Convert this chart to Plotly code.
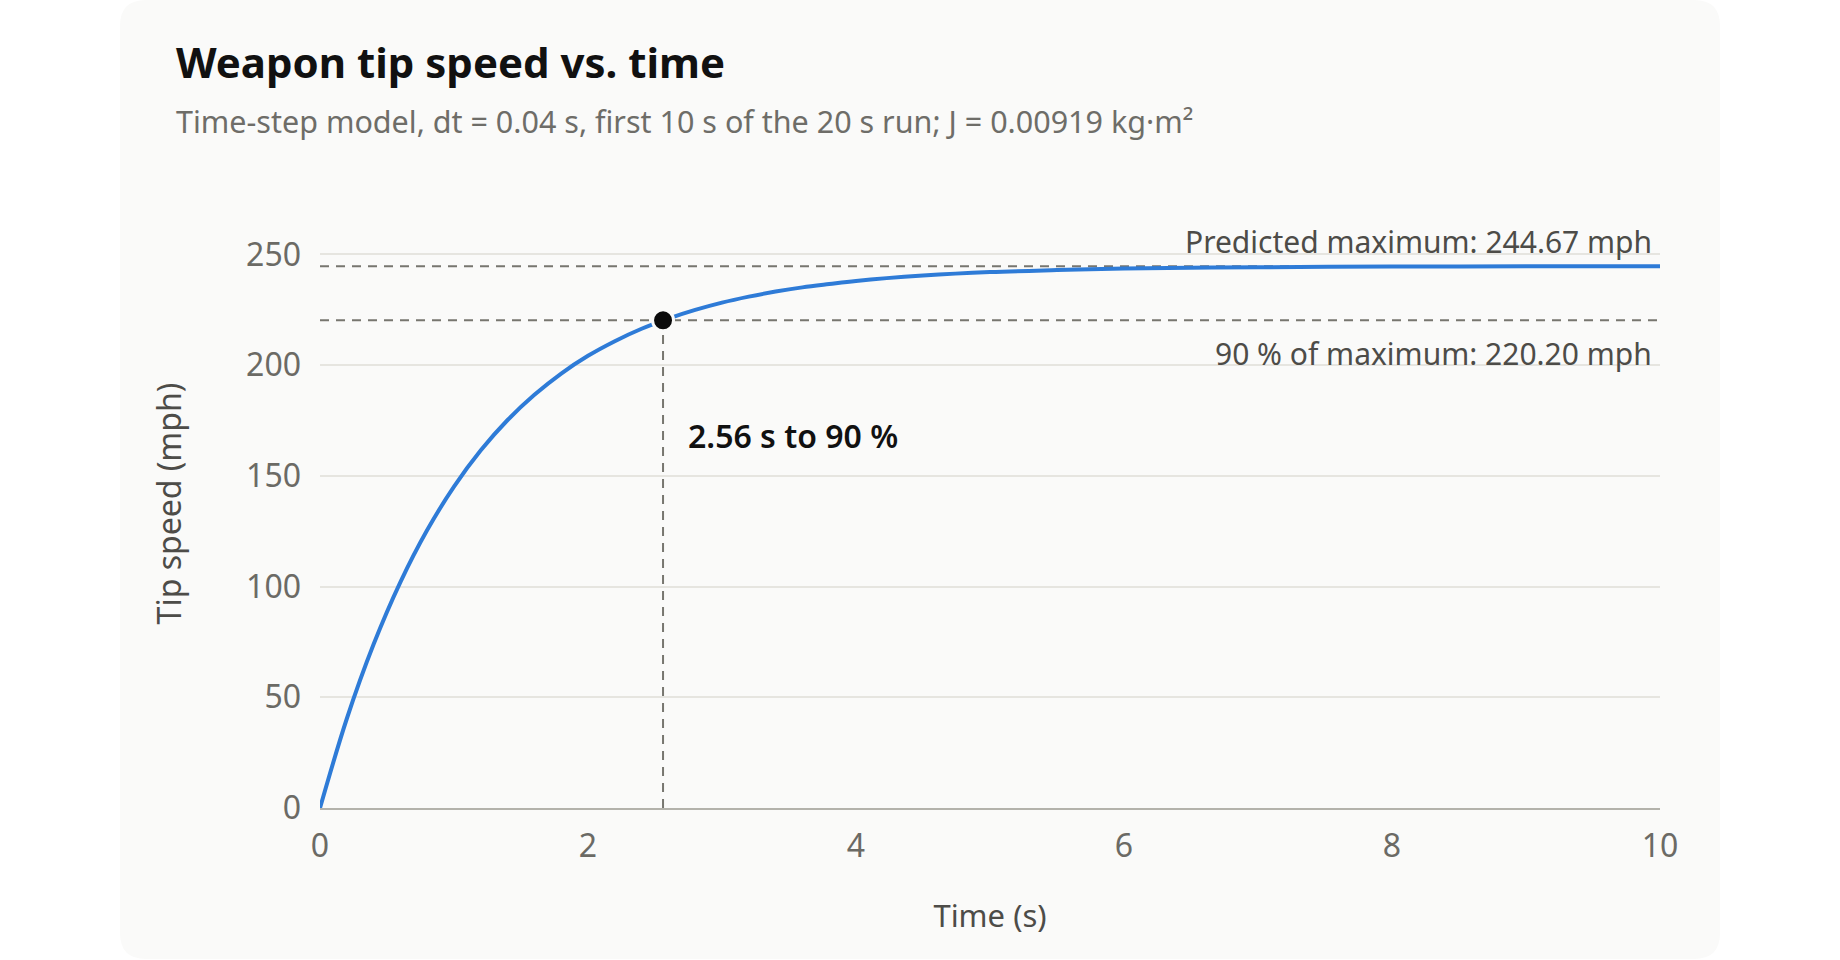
import plotly.graph_objects as go

# Tip speed (time-step model, first 10 s)
time_s = [0, 0.2, 0.4, 0.6, 0.8, 1.0, 1.2, 1.4, 1.6, 1.8, 2.0, 2.2, 2.4,
          2.6, 2.8, 3.0, 3.2, 3.4, 3.6, 3.8, 4.0, 4.5, 5.0, 5.5, 6.0,
          7.0, 8.0, 9.0, 10.0]
tip_speed_mph = [0, 40.3, 73.9, 102.0, 125.5, 145.1, 161.5, 175.2, 186.6,
                 196.2, 204.2, 210.8, 216.4, 221.0, 224.9, 228.2, 230.9,
                 233.2, 235.1, 236.6, 238.0, 240.4, 242.0, 242.9, 243.6,
                 244.2, 244.5, 244.6, 244.67]

predicted_max = 244.67
ninety_pct = 220.20
t_ninety = 2.56

x_ticks = [0, 2, 4, 6, 8, 10]
y_ticks = [0, 50, 100, 150, 200, 250]

FONT = "Noto Sans"
CARD = "#fafaf9"
DASH_COLOR = "#77766f"

# pixel layout of the plot area
W, H = 1840, 960
M_L, M_R, M_T, M_B = 320, 180, 199, 152
Y_TOP = 275
plot_w = W - M_L - M_R
plot_h = H - M_T - M_B


def px_to_paper(px, py):
    return (px - M_L) / plot_w, (H - M_B - py) / plot_h


def rounded_card(x0, y0, x1, y1, r):
    # rounded rectangle as a paper-referenced svg path
    ax, ay = px_to_paper(x0, y0)
    bx, by = px_to_paper(x1, y1)
    rx, ry = r / plot_w, r / plot_h
    return (f"M {ax+rx},{ay} L {bx-rx},{ay} Q {bx},{ay} {bx},{ay-ry} "
            f"L {bx},{by+ry} Q {bx},{by} {bx-rx},{by} L {ax+rx},{by} "
            f"Q {ax},{by} {ax},{by+ry} L {ax},{ay-ry} Q {ax},{ay} {ax+rx},{ay} Z")


dash_line = dict(color=DASH_COLOR, width=2, dash="9px,7px")

traces = []
# reference lines
traces.append(go.Scatter(x=[x_ticks[0], x_ticks[-1]], y=[predicted_max, predicted_max],
                         mode="lines", line=dash_line, hoverinfo="skip"))
traces.append(go.Scatter(x=[x_ticks[0], x_ticks[-1]], y=[ninety_pct, ninety_pct],
                         mode="lines", line=dash_line, hoverinfo="skip"))
traces.append(go.Scatter(x=[t_ninety, t_ninety], y=[0, ninety_pct],
                         mode="lines", line=dash_line, hoverinfo="skip"))
# speed curve
traces.append(go.Scatter(x=time_s, y=tip_speed_mph, mode="lines",
                         line=dict(color="#2e7bd7", width=4, shape="spline", smoothing=1.0),
                         name="Tip speed"))
# 90 % point
traces.append(go.Scatter(x=[t_ninety], y=[ninety_pct], mode="markers",
                         marker=dict(size=21, color="#0b0b0b", line=dict(color=CARD, width=3))))

fig = go.Figure(data=traces)

tx, ty = px_to_paper(174, 62)
sx, sy = px_to_paper(174, 121)

fig.update_layout(
    width=W, height=H,
    showlegend=False,
    paper_bgcolor="white",
    plot_bgcolor="rgba(0,0,0,0)",
    margin=dict(l=M_L, r=M_R, t=M_T, b=M_B),
    font=dict(family=FONT, color="#6b6a65"),
    shapes=[dict(type="path", xref="paper", yref="paper",
                 path=rounded_card(120, 0, 1720, 959, 26),
                 fillcolor=CARD, line=dict(width=0), layer="below")],
    annotations=[
        dict(text="<b>Weapon tip speed vs. time</b>", xref="paper", yref="paper",
             x=tx, y=ty, xanchor="left", yanchor="middle", showarrow=False,
             font=dict(size=42, color="#111111", family=FONT)),
        dict(text="Time-step model, dt = 0.04 s, first 10 s of the 20 s run; J = 0.00919 kg·m²",
             xref="paper", yref="paper", x=sx, y=sy, xanchor="left", yanchor="middle",
             showarrow=False, font=dict(size=30.5, color="#6e6d68", family=FONT)),
        dict(text=f"Predicted maximum: {predicted_max:.2f} mph", x=x_ticks[-1], y=predicted_max,
             xanchor="right", yanchor="middle", xshift=-6, yshift=25, showarrow=False,
             font=dict(size=30, color="#4d4c48", family=FONT)),
        dict(text=f"90 % of maximum: {ninety_pct:.2f} mph", x=x_ticks[-1], y=ninety_pct,
             xanchor="right", yanchor="middle", xshift=-6, yshift=-33, showarrow=False,
             font=dict(size=30, color="#4d4c48", family=FONT)),
        dict(text=f"{t_ninety:.2f} s to 90 %", x=t_ninety, y=ninety_pct,
             xanchor="left", yanchor="middle", xshift=23, yshift=-115, showarrow=False,
             font=dict(size=32, color="#111111", family=FONT, weight=600)),
    ],
)

fig.update_xaxes(
    range=[0, 10], tickvals=x_ticks, showgrid=False, zeroline=False,
    showline=True, linecolor="#b3b2ab", linewidth=2,
    ticks="", ticklabelstandoff=9,
    tickfont=dict(size=32, color="#6b6a65"),
    title=dict(text="Time (s)", font=dict(size=31, color="#4d4c48"), standoff=40),
)
fig.update_yaxes(
    range=[0, Y_TOP], tickvals=y_ticks, showgrid=True, gridcolor="#e6e5e0", gridwidth=1.5,
    zeroline=False, showline=False, ticks="", ticklabelstandoff=18,
    tickfont=dict(size=32, color="#6b6a65"),
    title=dict(text="Tip speed (mph)", font=dict(size=32, color="#4d4c48"), standoff=54),
)

fig.write_html("out.html", config={"displayModeBar": False},
               post_script="document.body.style.margin='0';")
